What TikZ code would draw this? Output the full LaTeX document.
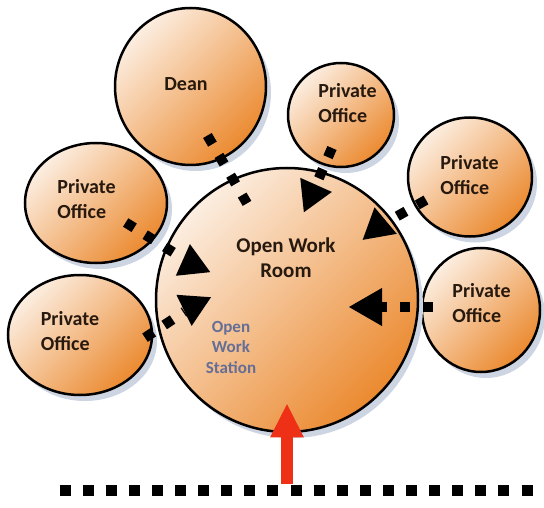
\documentclass[tikz,border=0pt]{standalone}
\usepackage{fontspec}
\setmainfont{Carlito}
\usetikzlibrary{shapes.geometric}
\usetikzlibrary{shadows}
\usetikzlibrary{arrows.meta}

\definecolor{peach}{RGB}{252,238,225}
\definecolor{deeporange}{RGB}{235,138,48}
\definecolor{ink}{RGB}{40,25,15}
\definecolor{note}{RGB}{100,110,150}
\definecolor{haze}{RGB}{205,212,226}
\definecolor{entryred}{RGB}{238,48,22}

\begin{document}
\begin{tikzpicture}[x=1pt, y=-1pt,
	bubble/.style={ellipse, draw=black, line width=2.5pt, inner sep=0pt,
		top color=peach, bottom color=deeporange, shading angle=45,
		drop shadow={shadow xshift=5pt, shadow yshift=-6pt, fill=haze, opacity=1}},
	tag/.style={font=\bfseries\fontsize{20}{25}\selectfont, text=ink, align=left, inner sep=0pt},
	dots/.style={line width=10pt, dash pattern=on 10pt off 13pt},
	head/.style={regular polygon, regular polygon sides=3, fill=black, minimum size=40pt, inner sep=0pt},
	wall/.style={line width=11pt, dash pattern=on 11pt off 12.1pt},
	entry/.style={line width=12pt, entryred, -{Triangle[length=34pt, width=31pt]}}]
				
				\useasboundingbox (0,0) rectangle (544,508);
				
				\node[bubble, minimum width=151pt, minimum height=157pt] (D) at (190.5,86.5) {};
				\node[bubble, minimum width=106pt, minimum height=104pt] (P1) at (341,115) {};
				\node[bubble, minimum width=124pt, minimum height=119pt] (P2) at (470,177) {};
				\node[bubble, minimum width=118pt, minimum height=124pt] (P3) at (481,310) {};
				\node[bubble, minimum width=142pt, minimum height=120pt] (P4) at (96,203) {};
				\node[bubble, minimum width=144pt, minimum height=120pt] (P5) at (80,335) {};
				\node[bubble, minimum width=262pt, minimum height=264pt] (R) at (287,300) {};
				
				\node[tag] (L0) at (186,84.5) {Dean};
				\node[tag] (L1) at (347.5,103) {Private\\Office};
				\node[tag] (L2) at (469.5,175) {Private\\Office};
				\node[tag] (L3) at (481.5,303.5) {Private\\Office};
				\node[tag] (L4) at (86.5,199) {Private\\Office};
				\node[tag] (L5) at (70,331) {Private\\Office};
				\node[tag, align=center, font=\bfseries\fontsize{21}{25}\selectfont] (L6) at (286,258) {Open Work\\Room};
				\node[tag, align=center, text=note, font=\bfseries\fontsize{17}{20.5}\selectfont] (L7) at (231,347) {Open\\Work\\Station};
				
				\node[head, rotate=-84] (A1) at (312,194) {};
				\node[head, rotate=10] (A2) at (378,227) {};
				\node[head, rotate=90, minimum size=44pt] (A3) at (371,307) {};
				\node[head, rotate=6] (A4) at (192,264) {};
				\node[head, rotate=176] (A5) at (193,306) {};
				
				\coordinate (S0) at (207.4,135.5);
				\coordinate (E0) at (247,203.4);
				\coordinate (S1) at (332,148);
				\coordinate (S2) at (426,200);
				\coordinate (S3) at (433,307);
				\coordinate (S4) at (125.7,222.5);
				\coordinate (S5) at (145,337.7);
				
				\draw[dots] (S0) -- (E0);
				\draw[dots] (S1) -- (A1);
				\draw[dots] (S2) -- (A2);
				\draw[dots] (S3) -- (A3);
				\draw[dots] (S4) -- (A4);
				\draw[dots] (S5) -- (A5);
				
				\coordinate (W1) at (59.5,490);
				\coordinate (W2) at (532.5,490);
				\coordinate (E) at (287,484);
				
				\draw[wall] (W1) -- (W2);
				\draw[entry, shorten >=-30pt] (E) -- (R.south);
				
			\end{tikzpicture}
\end{document}
